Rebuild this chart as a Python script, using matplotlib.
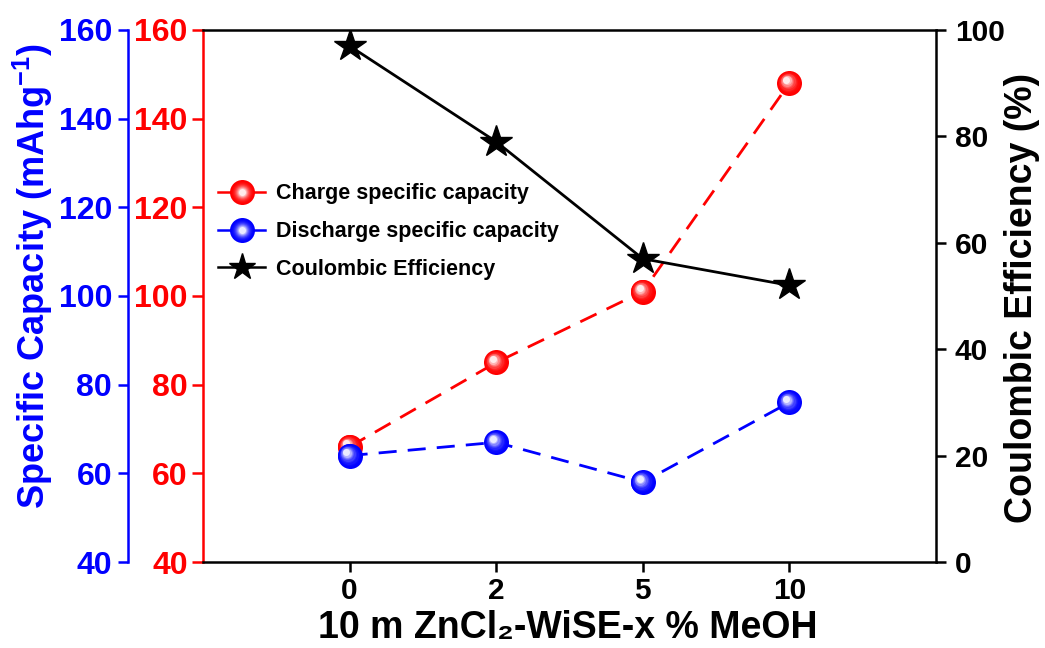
import matplotlib
matplotlib.use("Agg")
import matplotlib.pyplot as plt
import matplotlib.transforms as mtransforms
from matplotlib.font_manager import fontManager
from matplotlib.legend_handler import HandlerTuple
from matplotlib.lines import Line2D
import numpy as np


categories = ["0", "2", "5", "10"]
charge_capacity = [66, 85, 101, 148]
discharge_capacity = [64, 67, 58, 76]
coulombic_eff = [97, 79, 57, 52]

RED = "#ff0000"
BLUE = "#0000ff"

names = {f.name for f in fontManager.ttflist}
FONT = "Liberation Sans" if "Liberation Sans" in names else "DejaVu Sans"
plt.rcParams["font.family"] = FONT
plt.rcParams["font.weight"] = "bold"
plt.rcParams["mathtext.fontset"] = "custom"
plt.rcParams["mathtext.bf"] = f"{FONT}:bold"
plt.rcParams["mathtext.rm"] = f"{FONT}:bold"
plt.rcParams["mathtext.default"] = "bf"


def mix(c, t):
    c = np.array(matplotlib.colors.to_rgb(c))
    return tuple(np.clip(c + (1.0 - c) * t, 0, 1))


def ball_layers(ax, x, y, color, ms, zorder, n=10):
    # stacked discs fading to white, nudged up-left, to fake a shaded sphere
    handles = []
    for i in range(n):
        frac = i / (n - 1)
        size = ms * (1.0 - 0.72 * frac)
        shift = ms * 0.13 * frac
        tr = mtransforms.offset_copy(ax.transData, fig=ax.figure, x=-shift, y=shift, units="points")
        c = mix(color, frac ** 2.2 * 0.92)
        ax.plot(x, y, ls="none", marker="o", ms=size, mfc=c, mew=0,
                transform=tr, zorder=zorder + i * 0.01)
        handles.append(Line2D([], [], ls="none", marker="o", ms=size, mfc=c, mew=0))
    return handles


fig = plt.figure(figsize=(10.45, 6.48), dpi=100)
fig.subplots_adjust(left=203 / 1045, right=936 / 1045, top=1 - 30 / 648, bottom=1 - 562 / 648)

x = np.arange(len(categories))

ax = fig.add_subplot(111)
ax_blue = ax.twinx()
ax_ce = ax.twinx()

# blue axis lives on the left, pushed outward
ax_blue.yaxis.set_label_position("left")
ax_blue.yaxis.tick_left()
ax_blue.spines["left"].set_position(("outward", 54))
ax_blue.spines["left"].set_visible(True)
for s in ["right", "top", "bottom"]:
    ax_blue.spines[s].set_visible(False)
ax_blue.patch.set_visible(False)
ax_ce.patch.set_visible(False)

for a in (ax, ax_blue):
    a.set_ylim(40, 160)
    a.set_yticks(np.arange(40, 161, 20))
ax.set_xlim(-1, 4)
ax_ce.set_ylim(0, 100)
ax_ce.set_yticks(np.arange(0, 101, 20))

ax.set_xticks(x)
ax.set_xticklabels(categories, fontsize=21.5, fontweight="bold")
ax.tick_params(axis="x", direction="out", length=7.5, width=1.8, pad=3, top=False)

ax.tick_params(axis="y", colors=RED, direction="out", length=8, width=1.8, labelsize=23, pad=3)
ax.spines["left"].set_color(RED)
ax.spines["left"].set_linewidth(1.8)
ax.spines["bottom"].set_linewidth(1.8)
ax.spines["top"].set_linewidth(1.8)
ax.spines["right"].set_visible(False)

ax_blue.tick_params(axis="y", colors=BLUE, direction="out", length=7.5, width=1.8, labelsize=23, pad=4)
ax_blue.spines["left"].set_color(BLUE)
ax_blue.spines["left"].set_linewidth(1.8)

ax_ce.tick_params(axis="y", colors="black", direction="out", length=7.5, width=1.8, labelsize=21.5, pad=6)
ax_ce.spines["right"].set_linewidth(1.8)
for s in ["left", "top", "bottom"]:
    ax_ce.spines[s].set_visible(False)

# dashed capacity traces
ax.plot(x, charge_capacity, color=RED, ls=(0, (6.5, 4)), lw=2, zorder=2)
ax_blue.plot(x, discharge_capacity, color=BLUE, ls=(0, (6.5, 4)), lw=2, zorder=2)
red_h = ball_layers(ax, x, charge_capacity, RED, 18, zorder=3)
blue_h = ball_layers(ax_blue, x, discharge_capacity, BLUE, 18, zorder=3)

ax_ce.plot(x, coulombic_eff, color="black", lw=2, marker="*", ms=24, zorder=4)

leg_red = (Line2D([], [], color=RED, lw=1.8),) + tuple(red_h)
leg_blue = (Line2D([], [], color=BLUE, lw=1.8),) + tuple(blue_h)
leg_ce = Line2D([], [], color="black", lw=1.8, marker="*", ms=20)
ax_ce.legend([leg_red, leg_blue, leg_ce],
             ["Charge specific capacity", "Discharge specific capacity", "Coulombic Efficiency"],
             handler_map={tuple: HandlerTuple(ndivide=1, pad=0)},
             loc="upper left", bbox_to_anchor=(0.0, 0.74), frameon=False,
             prop={"family": FONT, "weight": "bold", "size": 15.5},
             handlelength=2.2, handletextpad=0.5, labelspacing=0.78, borderaxespad=0.3)

fig.text(33 / 1045, 1 - 276 / 648, "Specific Capacity (mAhg$^{-1}$)", rotation=90,
         ha="center", va="center", color=BLUE, fontsize=26, fontweight="bold")
fig.text(1022 / 1045, 1 - 298 / 648, "Coulombic Efficiency (%)", rotation=90,
         ha="center", va="center", color="black", fontsize=27, fontweight="bold")
fig.text(568 / 1045, 1 - 638 / 648, "10 m ZnCl\u2082-WiSE-x % MeOH",
         ha="center", va="baseline", color="black", fontsize=27, fontweight="bold")

fig.savefig("out.png", dpi=100)
